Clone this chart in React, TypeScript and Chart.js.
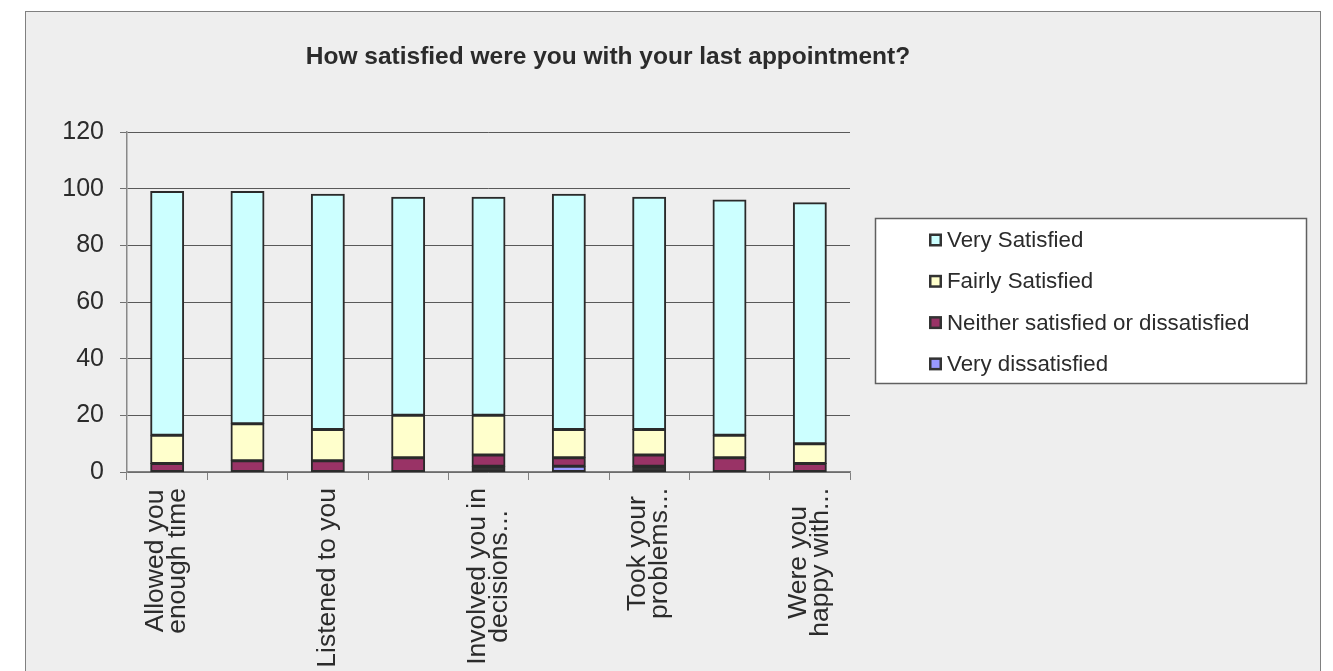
import { useEffect, useRef } from "react";
import { Chart, registerables } from "chart.js";

Chart.register(...registerables);

// ---- data ----
const chartTitle = "How satisfied were you with your last appointment?";
const categories: string[][] = [
  ["Allowed you", "enough time"],
  ["Asked about", "your symptoms"],
  ["Listened to you"],
  ["Explained tests", "and treatments"],
  ["Involved you in", "decisions..."],
  ["Treated you with", "care..."],
  ["Took your", "problems..."],
  ["Treated you", "with respect"],
  ["Were you", "happy with..."],
];
const labelEvery = 2;
const veryDissatisfied = [0, 0, 0, 0, 0, 2, 0, 0, 0];
const fairlyDissatisfied = [0, 0, 0, 0, 2, 0, 2, 0, 0];
const neither = [3, 4, 4, 5, 4, 3, 4, 5, 3];
const fairlySatisfied = [10, 13, 11, 15, 14, 10, 9, 8, 7];
const verySatisfied = [86, 82, 83, 77, 77, 83, 82, 83, 85];
const yTicks = [0, 20, 40, 60, 80, 100, 120];

const FONT = "'Liberation Sans', Arial, sans-serif";
const TEXT = "#2b2b2b";

const titlePlugin = {
  id: "customTitle",
  afterDraw(chart: any) {
    const ctx = chart.ctx;
    ctx.save();
    ctx.font = `bold 24.5px ${FONT}`;
    ctx.fillStyle = TEXT;
    ctx.textAlign = "center";
    ctx.textBaseline = "middle";
    ctx.fillText(chartTitle, 582, 45);
    ctx.restore();
  },
};

const legendPlugin = {
  id: "customLegend",
  afterDraw(chart: any) {
    const ctx = chart.ctx;
    const left = 849, top = 206, right = 1280, bottom = 371;
    ctx.save();
    ctx.fillStyle = "#ffffff";
    ctx.fillRect(left, top, right - left, bottom - top);
    ctx.strokeStyle = "#606060";
    ctx.lineWidth = 1.5;
    ctx.strokeRect(left + 0.5, top + 0.5, right - left, bottom - top);
    const items = chart.data.datasets
      .filter((d: any) => !d.hideInLegend)
      .slice()
      .reverse();
    ctx.font = `22.3px ${FONT}`;
    ctx.textBaseline = "middle";
    ctx.textAlign = "left";
    items.forEach((d: any, i: number) => {
      const cy = top + 22 + i * 41.3;
      ctx.fillStyle = "#333333";
      ctx.fillRect(903, cy - 6.5, 13, 13);
      ctx.fillStyle = d.backgroundColor;
      ctx.fillRect(905.5, cy - 4, 8, 8);
      ctx.fillStyle = TEXT;
      ctx.fillText(d.label, 921, cy + 1);
    });
    ctx.restore();
  },
};

const xLabelPlugin = {
  id: "xLabels",
  afterDraw(chart: any) {
    const xs = chart.scales.x;
    const ctx = chart.ctx;
    ctx.save();
    ctx.font = `26.5px ${FONT}`;
    ctx.fillStyle = TEXT;
    ctx.textAlign = "center";
    ctx.textBaseline = "middle";
    const top = xs.top + 16;
    const lh = 22;
    (chart.data.labels as string[][]).forEach((lines, i) => {
      if (i % labelEvery !== 0) return;
      const x0 = xs.getPixelForTick(i);
      const w = Math.max(...lines.map((l) => ctx.measureText(l).width));
      lines.forEach((l, j) => {
        const x = x0 + (j - (lines.length - 1) / 2) * lh;
        ctx.save();
        ctx.translate(x, top + w / 2);
        ctx.rotate(-Math.PI / 2);
        ctx.fillText(l, 0, 0);
        ctx.restore();
      });
    });
    ctx.restore();
  },
};

export default function App() {
  const ref = useRef<HTMLCanvasElement | null>(null);
  useEffect(() => {
    if (!ref.current) return;
    const common = {
      borderColor: "#2a2a2a",
      borderWidth: 2,
      inflateAmount: 0.5,
      borderSkipped: false,
      barPercentage: 0.41,
      categoryPercentage: 1,
    };
    const chart = new Chart(ref.current, {
      type: "bar",
      data: {
        labels: categories as any,
        datasets: [
          { label: "Very dissatisfied", data: veryDissatisfied, backgroundColor: "#9999FF", ...common },
          { label: "Fairly dissatisfied", data: fairlyDissatisfied, backgroundColor: "#333333", hideInLegend: true, ...common } as any,
          { label: "Neither satisfied or dissatisfied", data: neither, backgroundColor: "#993366", ...common },
          { label: "Fairly Satisfied", data: fairlySatisfied, backgroundColor: "#FFFFCC", ...common },
          { label: "Very Satisfied", data: verySatisfied, backgroundColor: "#CCFFFF", ...common },
        ] as any,
      },
      options: {
        responsive: false,
        animation: false,
        devicePixelRatio: 1,
        layout: { padding: { left: 0, right: 470, top: 120, bottom: 0 } },
        plugins: {
          legend: { display: false },
          title: { display: false },
          tooltip: { enabled: false },
        },
        scales: {
          x: {
            stacked: true,
            offset: true,
            grid: {
              offset: true,
              drawOnChartArea: false,
              drawTicks: true,
              tickLength: 8,
              color: "#808080",
              lineWidth: 1,
            },
            border: { color: "#808080", width: 1.5 },
            ticks: { display: false, autoSkip: false },
            afterFit: (s: any) => {
              s.height = 199;
            },
          },
          y: {
            stacked: true,
            min: 0,
            max: 120,
            afterBuildTicks: (s: any) => {
              s.ticks = yTicks.map((v) => ({ value: v }));
            },
            grid: {
              color: "#595959",
              lineWidth: 1,
              drawTicks: true,
              tickLength: 7,
              tickColor: "#707070",
            },
            border: { color: "#888888", width: 1.5 },
            ticks: {
              color: TEXT,
              font: { family: FONT, size: 25 },
              padding: 16,
            },
            afterFit: (s: any) => {
              s.width = 101;
            },
          },
        },
      } as any,
      plugins: [titlePlugin, legendPlugin, xLabelPlugin],
    });
    return () => chart.destroy();
  }, []);

  return (
    <div
      style={{
        position: "absolute",
        left: 0,
        top: 0,
        width: 1333,
        height: 671,
        overflow: "hidden",
        background: "#ffffff",
      }}
    >
      <div
        style={{
          position: "absolute",
          left: 25,
          top: 11,
          width: 1296,
          height: 700,
          boxSizing: "border-box",
          border: "1px solid #808080",
          background: "#eeeeee",
        }}
      />
      <canvas
        ref={ref}
        width={1294}
        height={659}
        style={{ position: "absolute", left: 26, top: 12, width: 1294, height: 659 }}
      />
    </div>
  );
}
